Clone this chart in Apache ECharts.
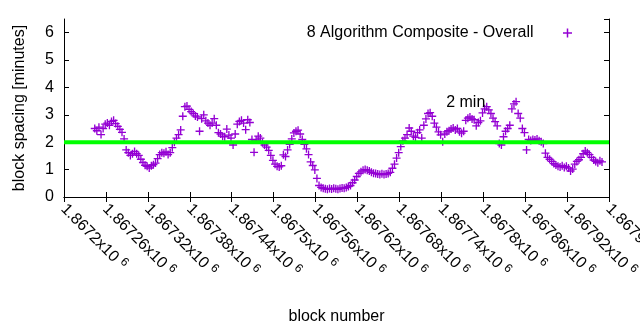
<!DOCTYPE html>
<html><head><meta charset="utf-8">
<script src="https://cdn.jsdelivr.net/npm/echarts@6/dist/echarts.min.js"></script>
<style>html,body{margin:0;padding:0;background:#fff}#c{width:640px;height:330px}</style>
</head><body><div id="c"></div>
<script>
// ---- data ----
const seriesName = '8 Algorithm Composite - Overall';
const firstBlock = 1867244;   // block number of first sample
const blockStep = 3;          // blocks between samples
const spacingMinutes = [
  2.50, 2.42, 2.55, 2.28, 2.50, 2.66, 2.70, 2.62, 2.76, 2.80,
  2.68, 2.58, 2.47, 2.36, 2.12, 1.72, 1.62, 1.52, 1.58, 1.66,
  1.58, 1.52, 1.38, 1.26, 1.16, 1.12, 1.06, 1.14, 1.18, 1.24,
  1.40, 1.55, 1.62, 1.60, 1.65, 1.55, 1.62, 1.80, 2.00, 2.15,
  2.28, 2.45, 2.95, 3.30, 3.32, 3.20, 3.12, 3.05, 2.96, 2.92,
  2.40, 2.86, 3.00, 2.78, 2.70, 2.62, 2.70, 2.86, 2.62, 2.35,
  2.30, 2.22, 2.20, 2.48, 2.26, 2.15, 1.90, 2.30, 2.66, 2.76,
  2.80, 2.70, 2.46, 2.82, 2.72, 2.10, 1.63, 2.08, 2.22, 2.15,
  1.98, 1.90, 1.82, 1.70, 1.52, 1.34, 1.20, 1.12, 1.10, 1.14,
  1.54, 1.48, 1.72, 1.92, 2.12, 2.34, 2.40, 2.44, 2.30, 2.10,
  1.92, 1.76, 1.55, 1.28, 1.15, 0.99, 0.68, 0.42, 0.35, 0.32,
  0.30, 0.28, 0.31, 0.29, 0.32, 0.30, 0.28, 0.31, 0.33, 0.32,
  0.35, 0.38, 0.42, 0.52, 0.62, 0.75, 0.86, 0.92, 0.98, 1.00,
  0.98, 0.95, 0.90, 0.87, 0.86, 0.84, 0.82, 0.85, 0.82, 0.84,
  0.86, 0.90, 1.05, 1.20, 1.42, 1.62, 1.84, 2.05, 2.15, 2.28,
  2.52, 2.40, 2.22, 2.18, 2.35, 2.45, 2.15, 2.62, 2.85, 3.05,
  3.08, 2.95, 2.70, 2.55, 2.38, 2.27, 2.02, 2.30, 2.38, 2.42,
  2.48, 2.52, 2.45, 2.50, 2.38, 2.33, 2.40, 2.80, 2.88, 2.92,
  2.85, 2.82, 2.60, 2.72, 2.78, 3.07, 3.22, 3.30, 3.18, 3.05,
  2.88, 2.75, 2.60, 1.95, 1.90, 2.20, 2.40, 2.50, 2.62, 3.22,
  3.40, 3.48, 3.05, 2.88, 2.50, 2.35, 1.72, 2.10, 2.06, 2.10,
  2.08, 2.12, 2.05, 2.02, 1.95, 1.60, 1.45, 1.38, 1.30, 1.22,
  1.17, 1.12, 1.10, 1.14, 1.08, 1.12, 1.06, 0.95, 1.02, 1.20,
  1.30, 1.36, 1.45, 1.58, 1.68, 1.62, 1.55, 1.45, 1.35, 1.30,
  1.25, 1.32, 1.28
];
const targetBlocks = [1867200, 1867980];
const targetMinutes = [2, 2];
const targetLabel = '2 min';
const targetLabelAt = [1867775, 3.45];
const xTickMantissas = ['1.8672','1.86726','1.86732','1.86738','1.86744','1.8675','1.86756',
  '1.86762','1.86768','1.86774','1.8678','1.86786','1.86792','1.86798'];
const xMin = 1867200, xMax = 1867980, xInterval = 60;
const yMin = 0, yMax = 6.5, yInterval = 1;

// ---- chart ----
const FONT = "'Liberation Sans', Arial, sans-serif";
const FS = 16;
const PLUS = 'path://M3,0H4.2V3H7.2V4.2H4.2V7.2H3V4.2H0V3H3Z';
const purple = '#9400D3';
const pts = spacingMinutes.map((v, i) => [firstBlock + i * blockStep, v]);
const line = targetBlocks.map((b, i) => [b, targetMinutes[i]]);

const axisCommon = {
  axisLine: {show: true, lineStyle: {color: '#000', width: 1}},
  axisTick: {show: true, inside: true, length: 5, lineStyle: {color: '#000'}},
  splitLine: {show: false}
};
const chart = echarts.init(document.getElementById('c'), null, {renderer: 'canvas'});
chart.setOption({
  animation: false,
  textStyle: {fontFamily: FONT},
  grid: {left: 64, right: 31, top: 19, bottom: 133, containLabel: false, outerBoundsMode: 'none'},
  legend: {
    data: [{name: seriesName, icon: PLUS}],
    right: 68, top: 25, padding: 0, align: 'right',
    itemWidth: 58, itemHeight: 9,
    textStyle: {fontFamily: FONT, fontSize: FS, color: '#000'}
  },
  xAxis: [
    Object.assign({}, axisCommon, {
      type: 'value', min: xMin, max: xMax, interval: xInterval,
      name: 'block number', nameLocation: 'middle', nameGap: 112,
      nameTextStyle: {fontFamily: FONT, fontSize: FS, color: '#000'},
      axisLabel: {
        rotate: -45, margin: 9, color: '#000', fontFamily: FONT, fontSize: FS,
        hideOverlap: false,
        formatter: v => {
          const i = Math.round((v - xMin) / xInterval);
          return '{a|' + xTickMantissas[i] + 'x10} {s|6}';
        },
        rich: {a: {fontSize: FS, fontFamily: FONT, color: '#000', lineHeight: 18, padding: [2, 0, 0, 0]},
               s: {fontSize: 12, fontFamily: FONT, color: '#000', lineHeight: 12, verticalAlign: 'top'}}
      }
    }),
    Object.assign({}, axisCommon, {
      type: 'value', position: 'top', min: xMin, max: xMax, interval: xInterval,
      axisLabel: {show: false}
    })
  ],
  yAxis: [
    Object.assign({}, axisCommon, {
      type: 'value', min: yMin, max: yMax, interval: yInterval,
      name: 'block spacing [minutes]', nameLocation: 'middle', nameGap: 36,
      nameTextStyle: {fontFamily: FONT, fontSize: FS, color: '#000'},
      axisLabel: {color: '#000', fontFamily: FONT, fontSize: FS, margin: 10, showMaxLabel: false}
    }),
    Object.assign({}, axisCommon, {
      type: 'value', position: 'right', min: yMin, max: yMax, interval: yInterval,
      axisLabel: {show: false}
    })
  ],
  series: [
    {
      name: seriesName, type: 'scatter', data: pts,
      symbol: PLUS, symbolSize: 8,
      itemStyle: {color: purple, opacity: 1},
      z: 2
    },
    {
      name: targetLabel, type: 'line', data: line, symbol: 'none',
      lineStyle: {color: '#00FF00', width: 4}, z: 3
    }
  ]
});
const p = chart.convertToPixel({xAxisIndex: 0, yAxisIndex: 0}, targetLabelAt);
chart.setOption({
  graphic: [{
    type: 'text', x: p[0], y: p[1], z: 10,
    style: {text: targetLabel, fontFamily: FONT, fontSize: FS, fill: '#000',
            textAlign: 'center', textVerticalAlign: 'middle'}
  }]
});
</script></body></html>
